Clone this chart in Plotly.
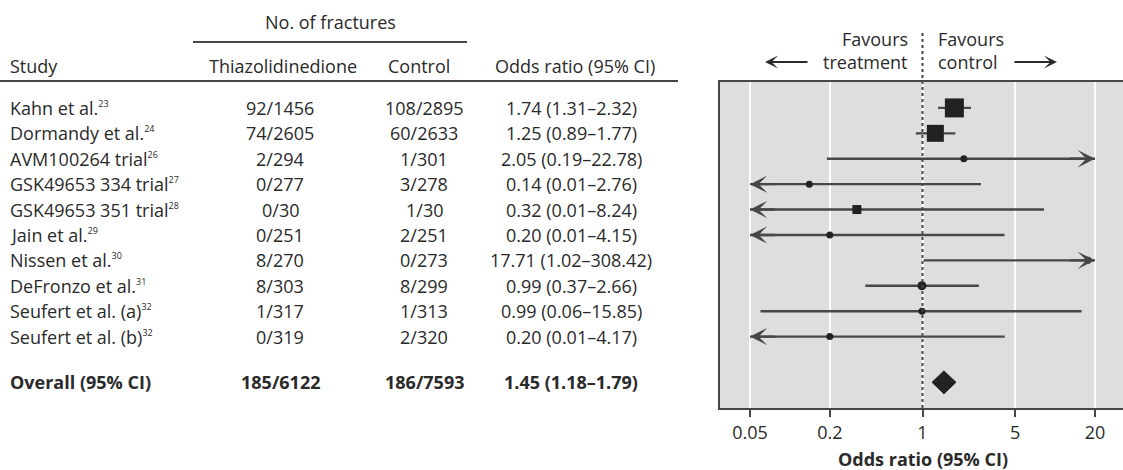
import math
import plotly.graph_objects as go

# ---------------- data ----------------
studies = ["Kahn et al.", "Dormandy et al.", "AVM100264 trial", "GSK49653 334 trial",
           "GSK49653 351 trial", "Jain et al.", "Nissen et al.", "DeFronzo et al.",
           "Seufert et al. (a)", "Seufert et al. (b)"]
refs = ["23", "24", "26", "27", "28", "29", "30", "31", "32", "32"]
tzd_fractures = ["92/1456", "74/2605", "2/294", "0/277", "0/30", "0/251", "8/270",
                 "8/303", "1/317", "0/319"]
ctrl_fractures = ["108/2895", "60/2633", "1/301", "3/278", "1/30", "2/251", "0/273",
                  "8/299", "1/313", "2/320"]
or_val = [1.74, 1.25, 2.05, 0.14, 0.32, 0.20, 17.71, 0.99, 0.99, 0.20]
ci_lo = [1.31, 0.89, 0.19, 0.01, 0.01, 0.01, 1.02, 0.37, 0.06, 0.01]
ci_hi = [2.32, 1.77, 22.78, 2.76, 8.24, 4.15, 308.42, 2.66, 15.85, 4.17]

overall_label = "Overall (95% CI)"
overall_tzd = "185/6122"
overall_ctrl = "186/7593"
overall_or = 1.45
overall_lo = 1.18
overall_hi = 1.79

tick_vals = [0.05, 0.2, 1, 5, 20]
tick_text = ["0.05", "0.2", "1", "5", "20"]
x_title = "Odds ratio (95% CI)"

# ---------------- style ----------------
W, H = 1123, 470
FONT = "Open Sans"
FS = 18
TXT = "#2a2a2a"
LINE = "#474747"
MARK = "#222222"
PANEL = "#dedede"
marker_px = [19, 17, 7, 7, 9, 7, 7, 9, 7, 7]
marker_sym = ["square", "square", "circle", "circle", "square", "circle", "circle",
              "circle", "circle", "circle"]
clip_lo, clip_hi = 0.05, 20
rows = list(range(len(studies)))
overall_row = 10.8
diamond_half = 0.45

def px_x(p):
    return p / W

def px_y(p):
    return (H - p) / H

fmt_or = [f"{o:.2f} ({l:.2f}\u2013{h:.2f})" for o, l, h in zip(or_val, ci_lo, ci_hi)]
fmt_overall = f"{overall_or:.2f} ({overall_lo:.2f}\u2013{overall_hi:.2f})"

fig = go.Figure()

# CI lines and point estimates
for i, r in enumerate(rows):
    x0 = max(ci_lo[i], clip_lo)
    x1 = min(ci_hi[i], clip_hi)
    fig.add_trace(go.Scatter(x=[x0, x1], y=[r, r], mode="lines",
                             line=dict(color=LINE, width=2.4),
                             showlegend=False, hoverinfo="skip"))
for i, r in enumerate(rows):
    fig.add_trace(go.Scatter(x=[or_val[i]], y=[r], mode="markers",
                             marker=dict(symbol=marker_sym[i], size=marker_px[i], color=MARK,
                                         line=dict(width=0)),
                             showlegend=False, hoverinfo="skip"))

# overall diamond
fig.add_trace(go.Scatter(
    x=[overall_lo, overall_or, overall_hi, overall_or, overall_lo],
    y=[overall_row, overall_row - diamond_half, overall_row, overall_row + diamond_half, overall_row],
    mode="lines", fill="toself", fillcolor=MARK, line=dict(color=MARK, width=1),
    showlegend=False, hoverinfo="skip"))

annotations = []
# arrowheads for clipped intervals
for i, r in enumerate(rows):
    if ci_lo[i] < clip_lo:
        annotations.append(dict(x=math.log10(clip_lo), y=r, ax=math.log10(clip_lo) + 0.2, ay=r,
                                xref="x", yref="y", axref="x", ayref="y", text="",
                                showarrow=True, arrowhead=3, arrowsize=1.2, arrowwidth=2.4,
                                arrowcolor=LINE))
    if ci_hi[i] > clip_hi:
        annotations.append(dict(x=math.log10(clip_hi), y=r, ax=math.log10(clip_hi) - 0.2, ay=r,
                                xref="x", yref="y", axref="x", ayref="y", text="",
                                showarrow=True, arrowhead=3, arrowsize=1.2, arrowwidth=2.4,
                                arrowcolor=LINE))

def txt(text, x, y, xanchor="center", yref="y", bold=False, xref="paper"):
    if bold:
        text = f"<b>{text}</b>"
    annotations.append(dict(text=text, x=x, y=y, xref=xref, yref=yref,
                            xanchor=xanchor, yanchor="middle", showarrow=False,
                            font=dict(family=FONT, size=FS, color=TXT)))

# table header
txt("No. of fractures", px_x(330), px_y(22), yref="paper")
txt("Study", px_x(8), px_y(66), xanchor="left", yref="paper")
txt("Thiazolidinedione", px_x(283), px_y(66), yref="paper")
txt("Control", px_x(419), px_y(66), yref="paper")
txt("Odds ratio (95% CI)", px_x(575), px_y(66), yref="paper")

sup = '<sup><span style="font-size:9px">{}</span></sup>'
for i, r in enumerate(rows):
    txt(studies[i] + sup.format(refs[i]), px_x(8), r, xanchor="left")
    txt(tzd_fractures[i], px_x(280), r)
    txt(ctrl_fractures[i], px_x(424), r)
    txt(fmt_or[i], px_x(571), r)
txt(overall_label, px_x(8), overall_row, xanchor="left", bold=True)
txt(overall_tzd, px_x(280), overall_row, bold=True)
txt(overall_ctrl, px_x(424), overall_row, bold=True)
txt(fmt_overall, px_x(571), overall_row, bold=True)

# x-axis title, centred on the line of no effect
txt(x_title, math.log10(1), px_y(459), yref="paper", bold=True, xref="x")

# favours labels
txt("Favours", px_x(910), px_y(39), xanchor="right", yref="paper")
txt("treatment", px_x(910), px_y(62), xanchor="right", yref="paper")
txt("Favours", px_x(936), px_y(39), xanchor="left", yref="paper")
txt("control", px_x(936), px_y(62), xanchor="left", yref="paper")
annotations.append(dict(x=px_x(765), y=px_y(62), xref="paper", yref="paper", ax=44, ay=0,
                        text="", showarrow=True, arrowhead=3, arrowsize=1.1, arrowwidth=2,
                        arrowcolor=TXT))
annotations.append(dict(x=px_x(1057), y=px_y(62), xref="paper", yref="paper", ax=-44, ay=0,
                        text="", showarrow=True, arrowhead=3, arrowsize=1.1, arrowwidth=2,
                        arrowcolor=TXT))

shapes = [
    # underline of "No. of fractures"
    dict(type="line", xref="paper", yref="paper", x0=px_x(193), x1=px_x(467),
         y0=px_y(42), y1=px_y(42), line=dict(color=LINE, width=2)),
    # header rule
    dict(type="line", xref="paper", yref="paper", x0=0, x1=px_x(678),
         y0=px_y(81), y1=px_y(81), line=dict(color=LINE, width=2)),
    # line of no effect
    dict(type="line", xref="x", yref="paper", x0=1, x1=1,
         y0=px_y(408), y1=px_y(30), line=dict(color=LINE, width=2, dash="dot"),
         layer="above"),
]

fig.update_layout(
    width=W, height=H,
    margin=dict(l=0, r=0, t=0, b=0),
    paper_bgcolor="white",
    plot_bgcolor=PANEL,
    font=dict(family=FONT, size=FS, color=TXT),
    annotations=annotations,
    shapes=shapes,
    hovermode=False,
    xaxis=dict(type="log", domain=[px_x(720), 1],
               range=[math.log10(clip_lo) - 30 / 132.6, math.log10(clip_hi) + 28 / 132.6],
               tickvals=tick_vals, ticktext=tick_text,
               showgrid=True, gridcolor="white", gridwidth=1.5,
               zeroline=False, showline=True, mirror=True, linecolor=LINE, linewidth=2,
               ticks="outside", ticklen=7, tickwidth=2, tickcolor=LINE,
               tickfont=dict(family=FONT, size=FS, color=TXT),
               automargin=False),
    yaxis=dict(domain=[px_y(408), px_y(82)], range=[11.81, -1.02],
               showgrid=False, zeroline=False, showticklabels=False, ticks="",
               showline=True, linecolor=LINE, linewidth=2, automargin=False),
)

# remove the default 8px page margin so the figure fills the window exactly
fig.write_html("out.html", config={"displayModeBar": False},
               post_script="document.body.style.margin='0px';")
